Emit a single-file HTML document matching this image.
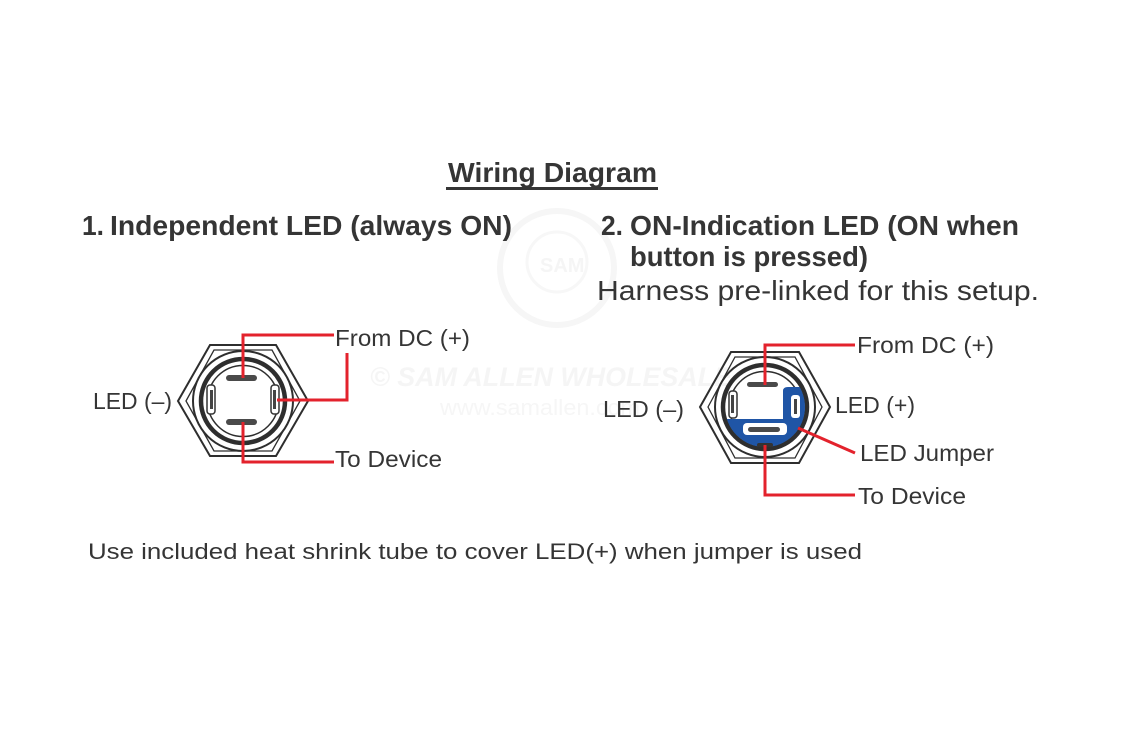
<!DOCTYPE html>
<html>
<head>
<meta charset="utf-8">
<style>
html,body{margin:0;padding:0;background:#fff;}
svg{display:block;}
text{font-family:"Liberation Sans",sans-serif;fill:#353535;}
.b{font-weight:bold;}
</style>
</head>
<body>
<svg width="1136" height="750" viewBox="0 0 1136 750" xmlns="http://www.w3.org/2000/svg">
<rect width="1136" height="750" fill="#fff"/>

<!-- watermark -->
<g>
  <circle cx="557" cy="268" r="57" fill="none" stroke="#f6f6f6" stroke-width="6"/>
  <circle cx="557" cy="262" r="30" fill="none" stroke="#f7f7f7" stroke-width="3"/>
  <text x="540" y="272" font-size="20" style="fill:#f5f5f5" font-weight="bold">SAM</text>
  <text x="370" y="386" font-size="27" font-style="italic" font-weight="bold" style="fill:#f5f5f5" textLength="362" lengthAdjust="spacingAndGlyphs">© SAM ALLEN WHOLESALE</text>
  <text x="440" y="415" font-size="22" style="fill:#f6f6f6" textLength="200" lengthAdjust="spacingAndGlyphs">www.samallen.com</text>
</g>

<!-- Title -->
<text class="b" x="448" y="182" font-size="28" textLength="209" lengthAdjust="spacingAndGlyphs">Wiring Diagram</text>
<rect x="446" y="187" width="212" height="3" fill="#353535"/>

<text class="b" x="82" y="235" font-size="28" textLength="22" lengthAdjust="spacingAndGlyphs">1.</text>
<text class="b" x="110" y="235" font-size="28" textLength="402" lengthAdjust="spacingAndGlyphs">Independent LED (always ON)</text>

<text class="b" x="601" y="235" font-size="28" textLength="22" lengthAdjust="spacingAndGlyphs">2.</text>
<text class="b" x="630" y="235" font-size="28" textLength="389" lengthAdjust="spacingAndGlyphs">ON-Indication LED (ON when</text>
<text class="b" x="630" y="266" font-size="28" textLength="238" lengthAdjust="spacingAndGlyphs">button is pressed)</text>
<text x="597" y="300" font-size="28" textLength="442" lengthAdjust="spacingAndGlyphs">Harness pre-linked for this setup.</text>

<!-- LEFT SWITCH -->
<g fill="none" stroke="#2e2e2e">
  <polygon points="178,401 210,345 276,345 308,401 276,456 210,456" stroke-width="2"/>
  <polygon points="186,401 214,350 272,350 300,401 272,451 214,451" stroke-width="1.3"/>
  <circle cx="243" cy="401" r="50" stroke-width="2"/>
  <circle cx="243" cy="401" r="42" stroke-width="4.5"/>
  <circle cx="243" cy="401" r="35.5" stroke-width="1.5"/>
</g>
<rect x="226" y="375" width="31" height="6" rx="3" fill="#4a4a4a"/>
<rect x="226" y="419" width="31" height="6" rx="3" fill="#4a4a4a"/>
<rect x="207" y="385" width="8" height="29" rx="3" fill="#fff" stroke="#333" stroke-width="1.5"/>
<rect x="210" y="390" width="3" height="19" fill="#444"/>
<rect x="271" y="385" width="8" height="29" rx="3" fill="#fff" stroke="#333" stroke-width="1.5"/>
<rect x="273" y="390" width="3" height="19" fill="#444"/>

<g fill="none" stroke="#e3222c" stroke-width="3">
  <polyline points="243,378 243,335 334,335"/>
  <polyline points="277,400 347,400 347,353"/>
  <polyline points="243,422 243,462 334,462"/>
</g>

<text x="335" y="346" font-size="23" textLength="135" lengthAdjust="spacingAndGlyphs">From DC (+)</text>
<text x="93" y="409" font-size="23" textLength="79" lengthAdjust="spacingAndGlyphs">LED (–)</text>
<text x="335" y="467" font-size="23" textLength="107" lengthAdjust="spacingAndGlyphs">To Device</text>

<!-- RIGHT SWITCH -->
<defs>
  <clipPath id="cc"><circle cx="765" cy="407" r="40"/></clipPath>
</defs>
<g fill="none" stroke="#2e2e2e">
  <polygon points="700,407 731,352 799,352 830,407 799,463 731,463" stroke-width="2"/>
  <polygon points="708,407 735,357 795,357 822,407 795,458 735,458" stroke-width="1.3"/>
  <circle cx="765" cy="407" r="50" stroke-width="2"/>
  <circle cx="765" cy="407" r="42" stroke-width="4.5"/>
  <circle cx="765" cy="407" r="35.5" stroke-width="1.5"/>
</g>
<rect x="747" y="382" width="31" height="5" rx="2.5" fill="#4a4a4a"/>
<rect x="729" y="391" width="8" height="27" rx="3" fill="#fff" stroke="#333" stroke-width="1.5"/>
<rect x="731" y="395" width="3" height="18" fill="#444"/>
<path d="M788,387 H812 V452 H718 V419 H783 V391 Q783,387 788,387 Z" fill="#1f55a6" clip-path="url(#cc)"/>
<rect x="743" y="423" width="44" height="12" rx="4" fill="#fff"/>
<rect x="748" y="427" width="32" height="5" rx="2.5" fill="#4a4a4a"/>
<rect x="791" y="395" width="9" height="23" rx="3" fill="#fff"/>
<rect x="794" y="399" width="3" height="15" fill="#444"/>
<rect x="757" y="443" width="16" height="4" rx="2" fill="#333"/>

<g fill="none" stroke="#e3222c" stroke-width="3">
  <polyline points="765,385 765,345 855,345"/>
  <line x1="798" y1="428" x2="855" y2="453"/>
  <polyline points="765,445 765,495 855,495"/>
</g>

<text x="857" y="353" font-size="23" textLength="137" lengthAdjust="spacingAndGlyphs">From DC (+)</text>
<text x="603" y="417" font-size="23" textLength="81" lengthAdjust="spacingAndGlyphs">LED (–)</text>
<text x="835" y="413" font-size="23" textLength="80" lengthAdjust="spacingAndGlyphs">LED (+)</text>
<text x="860" y="461" font-size="23" textLength="134" lengthAdjust="spacingAndGlyphs">LED Jumper</text>
<text x="858" y="504" font-size="23" textLength="108" lengthAdjust="spacingAndGlyphs">To Device</text>

<text x="88" y="559" font-size="22" textLength="774" lengthAdjust="spacingAndGlyphs">Use included heat shrink tube to cover LED(+) when jumper is used</text>
</svg>
</body>
</html>
